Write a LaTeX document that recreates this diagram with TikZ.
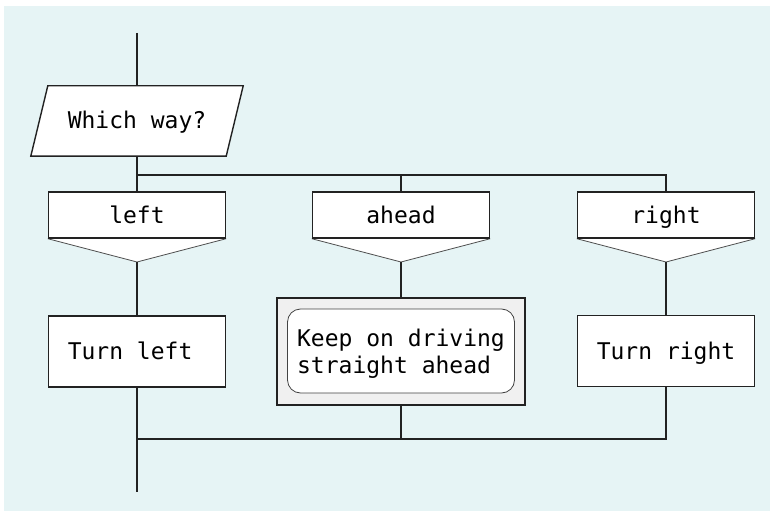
\documentclass[tikz,border=0pt]{standalone}
\usepackage{fontspec}
\setmonofont{DejaVu Sans Mono}
\usetikzlibrary{calc,backgrounds}
\definecolor{canvas}{HTML}{E6F4F5}
\definecolor{panel}{HTML}{F0F0F0}
\definecolor{ink}{HTML}{222222}
\begin{document}
\begin{tikzpicture}[x=1pt,y=-1pt,
  txt/.style={font=\ttfamily\fontsize{23}{27}\selectfont, text=black},
  oneline/.style={txt, text height=19pt, text depth=3pt},
  line/.style={draw=ink, line width=1.4pt},
  thinline/.style={draw=ink!80, line width=0.8pt},
  casebox/.style={oneline, draw=ink, line width=1.4pt, fill=white,
    minimum width=177pt, minimum height=46pt, inner sep=0pt},
  actbox/.style={oneline, draw=ink, line width=1.4pt, fill=white,
    minimum width=177pt, minimum height=71pt, inner sep=0pt},
]
\useasboundingbox (0,0) rectangle (770,513);

% question (parallelogram)
\node[oneline, minimum width=195pt, minimum height=70pt, inner sep=0pt] (q) at (137,121) {};
\filldraw[line, fill=white, line join=miter]
  ($(q.north west)+(8.5,0)$) -- ($(q.north east)+(8.5,0)$) --
  ($(q.south east)+(-8.5,0)$) -- ($(q.south west)+(-8.5,0)$) -- cycle;
\node[oneline] (qt) at (q) {Which way?};

% case labels
\node[casebox] (cl) at (137,215) {left};
\node[casebox] (ca) at (401,215) {ahead};
\node[casebox] (cr) at (666,215) {right};

% case pointers, drawn beneath the label boxes
\coordinate (la) at (137,262);
\coordinate (aa) at (401,262);
\coordinate (ra) at (666,262);
\begin{scope}[on background layer]
  \fill[white] (0,0) rectangle (770,513);
  \fill[canvas] (4,6) rectangle (770,511);
  \foreach \c/\a in {cl/la, ca/aa, cr/ra}{
    \fill[white] (\c.south west) -- (\a) -- (\c.south east) -- cycle;
    \draw[thinline] (\c.south west) -- (\a) -- (\c.south east);
  }
\end{scope}

% actions
\node[actbox] (tl) at (137,351.5) {Turn left\hphantom{x}};
\node[draw=ink, line width=1.4pt, fill=panel, minimum width=248pt,
  minimum height=107pt, inner sep=0pt] (kp) at (401,351.5) {};
\node[draw=ink!85, line width=0.8pt, fill=white, rounded corners=13pt,
  minimum width=227pt, minimum height=84pt, inner sep=0pt] (ki) at (401,351) {};
% base of a two-line node is the baseline of its last line
\node[txt, align=left, inner sep=0pt, anchor=base] (kt) at (401,373)
  {Keep on driving\\straight ahead};
\node[actbox] (tr) at (666,351) {Turn right};

% flow
\coordinate (start) at (137,33);
\coordinate (split) at (137,175);
\coordinate (merge) at (137,439);
\coordinate (finish) at (137,492);

\draw[line] (start) -- (q);
\draw[line] (q) -- (cl);
\draw[line] (split) -| (cr);
\draw[line] (ca) -- (ca.north |- split);

\draw[line] (la) -- (tl);
\draw[line] (aa) -- (kp);
\draw[line] (ra) -- (tr);

\draw[line] (tl) -- (finish);
\draw[line] (tr) |- (merge);
\draw[line] (kp) -- (kp.south |- merge);
\end{tikzpicture}
\end{document}
